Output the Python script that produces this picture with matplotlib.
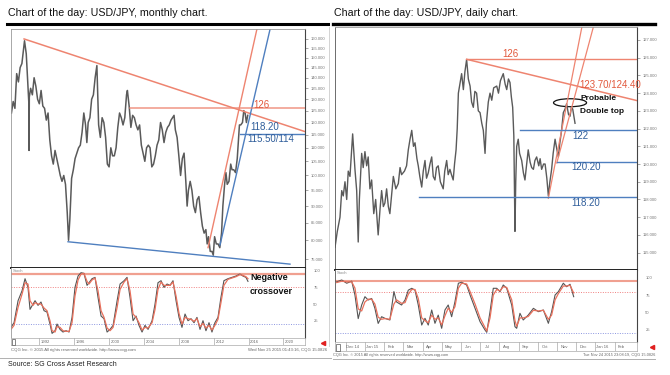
import numpy as np
import matplotlib.pyplot as plt
from matplotlib.patches import Ellipse, Rectangle
from matplotlib.lines import Line2D
from matplotlib.ticker import FixedLocator, NullFormatter, FormatStrFormatter

plt.rcParams['font.family'] = ['Liberation Sans', 'DejaVu Sans']

W, H = 670, 375

# ---------------------------------------------------------------------------
# Monthly chart data (decimal years, USD/JPY)
# ---------------------------------------------------------------------------
monthly_years = [
    1988.80, 1989.00, 1989.20, 1989.40, 1989.60, 1989.80, 1990.00, 1990.30,
    1990.50, 1990.70, 1990.80, 1990.82, 1990.85, 1991.00, 1991.20, 1991.40,
    1991.60, 1991.80, 1992.00, 1992.20, 1992.40, 1992.60, 1992.80, 1993.00,
    1993.20, 1993.40, 1993.60, 1993.80, 1994.00, 1994.20, 1994.40, 1994.60,
    1994.80, 1995.00, 1995.20, 1995.35, 1995.50, 1995.70, 1995.90, 1996.10,
    1996.30, 1996.50, 1996.70, 1996.90, 1997.10, 1997.30, 1997.45, 1997.60,
    1997.80, 1998.00, 1998.20, 1998.40, 1998.60, 1998.80, 1999.00, 1999.20,
    1999.40, 1999.60, 1999.80, 2000.00, 2000.20, 2000.40, 2000.60, 2000.80,
    2001.00, 2001.20, 2001.40, 2001.60, 2001.80, 2002.00, 2002.10, 2002.30,
    2002.50, 2002.70, 2002.90, 2003.10, 2003.30, 2003.50, 2003.70, 2003.90,
    2004.10, 2004.30, 2004.50, 2004.70, 2004.90, 2005.10, 2005.30, 2005.50,
    2005.70, 2005.90, 2006.10, 2006.30, 2006.50, 2006.70, 2006.90, 2007.10,
    2007.45, 2007.60, 2007.80, 2008.00, 2008.20, 2008.40, 2008.60, 2008.80,
    2008.95, 2009.10, 2009.30, 2009.50, 2009.70, 2009.90, 2010.10, 2010.30,
    2010.50, 2010.70, 2010.90, 2011.10, 2011.25, 2011.40, 2011.60, 2011.80,
    2011.95, 2012.10, 2012.30, 2012.50, 2012.70, 2012.90, 2013.05, 2013.25,
    2013.40, 2013.55, 2013.75, 2013.95, 2014.10, 2014.30, 2014.50, 2014.70,
    2014.85, 2014.95, 2015.10, 2015.30, 2015.45, 2015.60, 2015.75, 2015.90,
]
monthly_close = [
    124, 129, 126, 142, 138, 145, 147, 159,
    152, 136, 128, 109, 131, 135, 132, 140,
    136, 130, 128, 134, 127, 126, 121, 124,
    113, 107, 104, 109, 106, 103, 100, 98,
    100, 97, 88, 80, 86, 99, 102, 106,
    108, 110, 111, 116, 124, 119, 112, 120,
    122, 130, 132, 140, 146, 119, 114, 122,
    120, 114, 104, 103, 110, 107, 107, 110,
    118, 124, 122, 119, 122, 132, 134, 127,
    118, 123, 122, 119, 117, 119, 111, 108,
    105, 110, 111, 110, 103, 104, 107, 111,
    113, 120, 117, 112, 116, 118, 119, 121,
    123, 117, 114, 107, 100, 106, 108, 98,
    90, 95, 98, 95, 90, 88, 92, 93,
    88, 84, 82, 83, 79, 81, 77, 77,
    76, 81, 79, 79, 78, 82, 90, 97,
    101, 97, 98, 104, 102, 102, 101, 106,
    114, 119, 119, 120, 125, 124, 120, 123,
]

monthly_stoch_years = [
    1988.75, 1989.10, 1989.56, 1990.02, 1990.36, 1990.70, 1990.93, 1991.28,
    1991.51, 1991.85, 1992.19, 1992.54, 1992.88, 1993.22, 1993.46, 1993.80,
    1994.03, 1994.37, 1994.71, 1995.06, 1995.41, 1995.75, 1996.09, 1996.44,
    1996.78, 1997.12, 1997.47, 1997.70, 1998.04, 1998.39, 1998.73, 1999.08,
    1999.42, 1999.77, 2000.11, 2000.46, 2000.92, 2001.26, 2001.72, 2002.06,
    2002.40, 2002.75, 2003.09, 2003.43, 2003.78, 2004.12, 2004.47, 2004.93,
    2005.27, 2005.61, 2005.96, 2006.30, 2006.65, 2006.99, 2007.33, 2007.68,
    2008.02, 2008.36, 2008.71, 2009.05, 2009.40, 2009.74, 2010.08, 2010.43,
    2010.77, 2011.11, 2011.46, 2011.80, 2012.14, 2012.49, 2012.83, 2013.17,
    2013.63, 2014.09, 2014.55, 2015.01, 2015.35, 2015.70, 2015.93,
]
monthly_stoch_k = [
    15, 22, 55, 70, 88, 75, 42, 50,
    55, 48, 53, 40, 38, 20, 6, 10,
    20, 12, 8, 10, 8, 30, 75, 92,
    97, 96, 78, 82, 88, 90, 60, 32,
    28, 8, 12, 18, 55, 80, 85, 90,
    60, 25, 32, 18, 8, 18, 12, 25,
    50, 82, 85, 75, 80, 78, 85, 55,
    30, 15, 35, 25, 28, 22, 30, 12,
    25, 10, 22, 8, 22, 30, 60, 85,
    88, 90, 92, 95, 92, 90, 84,
]
monthly_stoch_d = [
    12, 18, 45, 65, 82, 80, 55, 48,
    52, 50, 50, 44, 40, 25, 10, 8,
    16, 15, 10, 9, 9, 22, 62, 86,
    95, 96, 84, 80, 86, 89, 70, 40,
    30, 14, 10, 15, 45, 72, 83, 88,
    70, 35, 30, 22, 11, 15, 14, 22,
    42, 72, 83, 78, 78, 78, 83, 62,
    36, 20, 30, 28, 27, 24, 28, 16,
    21, 14, 18, 11, 18, 27, 52, 78,
    87, 89, 91, 94, 93, 91, 88,
]

# ---------------------------------------------------------------------------
# Daily chart data (months since 1 Dec 2014, USD/JPY)
# ---------------------------------------------------------------------------
daily_months = [
    -0.57, -0.45, -0.31, -0.22, -0.14, -0.05, 0.04, 0.12, 0.21, 0.35,
    0.47, 0.56, 0.64, 0.70, 0.82, 0.90, 0.99, 1.08, 1.16, 1.25,
    1.34, 1.45, 1.55, 1.68, 1.78, 1.86, 1.95, 2.03, 2.12, 2.21,
    2.29, 2.40, 2.47, 2.60, 2.73, 2.82, 2.90, 3.05, 3.16, 3.25,
    3.34, 3.43, 3.52, 3.60, 3.70, 3.77, 3.85, 3.95, 4.03, 4.12,
    4.20, 4.29, 4.38, 4.47, 4.55, 4.64, 4.72, 4.81, 4.92, 5.07,
    5.15, 5.25, 5.33, 5.42, 5.50, 5.59, 5.66, 5.74, 5.80, 5.86,
    5.95, 6.03, 6.12, 6.20, 6.29, 6.38, 6.47, 6.55, 6.64, 6.72,
    6.81, 6.90, 6.99, 7.08, 7.16, 7.25, 7.32, 7.42, 7.51, 7.60,
    7.70, 7.86, 7.95, 8.05, 8.20, 8.30, 8.38, 8.47, 8.55, 8.62,
    8.69, 8.75, 8.81, 8.85, 8.90, 8.98, 9.05, 9.16, 9.25, 9.33,
    9.42, 9.50, 9.60, 9.68, 9.77, 9.85, 9.94, 10.05, 10.12, 10.20,
    10.30, 10.38, 10.47, 10.55, 10.63, 10.72, 10.80, 10.90, 10.98, 11.07,
    11.15, 11.24, 11.33, 11.42, 11.50, 11.60, 11.68, 11.75, 11.82, 11.94,
]
daily_close = [
    115.3, 116.2, 117.0, 118.5, 118.2, 119.0, 118.0, 119.6, 119.3, 121.7,
    119.7, 118.5, 115.6, 118.0, 120.6, 119.8, 120.7, 119.9, 120.4, 118.6,
    119.1, 117.2, 118.0, 116.0, 117.5, 118.5, 117.6, 117.8, 118.6, 117.6,
    117.2, 118.5, 119.3, 118.6, 118.9, 119.8, 119.4, 119.6, 119.9, 120.8,
    121.4, 121.9, 121.0, 121.2, 120.3, 119.9, 119.3, 118.7, 119.6, 120.2,
    119.2, 119.5, 120.0, 120.4, 119.3, 119.1, 119.8, 119.9, 119.0, 118.6,
    119.6, 120.2, 119.4, 119.7, 119.4, 119.1, 120.0, 120.8, 122.0, 124.0,
    124.6, 125.1, 124.2, 125.2, 125.9, 124.8, 124.4, 123.5, 123.2, 124.1,
    124.0, 123.0, 122.9, 122.3, 121.9, 120.6, 122.3, 123.5, 124.0, 123.6,
    124.3, 124.4, 124.0, 124.7, 125.1, 124.5, 124.2, 124.8, 124.6, 123.8,
    123.2, 121.6, 116.2, 119.0, 121.0, 121.4, 120.6, 120.2, 119.5, 119.1,
    120.0, 120.8, 120.1, 119.8, 119.7, 120.2, 120.4, 119.9, 120.3, 119.7,
    120.0, 120.0, 119.2, 118.2, 119.0, 119.7, 120.6, 121.4, 120.9, 120.4,
    121.2, 121.9, 122.9, 123.1, 123.4, 122.8, 122.7, 123.2, 123.1, 122.3,
]

daily_stoch_months = [
    -0.48, -0.22, 0.04, 0.30, 0.47, 0.64, 0.82, 0.99, 1.16, 1.34,
    1.51, 1.68, 1.86, 2.03, 2.29, 2.50, 2.64, 2.90, 3.08, 3.25,
    3.43, 3.60, 3.77, 3.95, 4.12, 4.29, 4.47, 4.64, 4.81, 4.99,
    5.16, 5.33, 5.51, 5.68, 5.86, 6.03, 6.29, 6.47, 6.73, 6.99,
    7.25, 7.34, 7.51, 7.68, 7.86, 8.03, 8.20, 8.38, 8.64, 8.81,
    8.90, 9.07, 9.24, 9.50, 9.77, 10.03, 10.29, 10.55, 10.72, 10.90,
    11.07, 11.33, 11.50, 11.68, 11.87,
]
daily_stoch_k = [
    94, 96.7, 92, 95, 75, 41, 60.6, 72.6, 67.8, 70,
    55.8, 34, 43.7, 41.4, 39, 80, 65, 60.6, 67.8, 82,
    84.7, 82, 60.6, 31.7, 41.4, 31.7, 53.4, 34.2, 46, 27,
    53.4, 60.6, 43.7, 65, 92, 93.4, 89.5, 75, 55.8, 36.5,
    24.5, 21.2, 51, 84.7, 84.7, 79.8, 89.5, 84.7, 60.6, 29.3,
    27, 48.6, 39, 46, 55.8, 51, 53.4, 34.2, 51, 75,
    79.8, 92, 87, 90.5, 72.6,
]
daily_stoch_d = [
    93, 95, 94, 94, 85, 55, 52, 65, 69, 69,
    62, 43, 40, 41, 40, 62, 68, 63, 64, 76,
    83, 83, 70, 42, 38, 35, 46, 40, 42, 32,
    45, 56, 50, 58, 85, 92, 91, 80, 62, 42,
    28, 23, 42, 75, 83, 81, 87, 86, 68, 38,
    30, 42, 42, 44, 53, 52, 53, 40, 46, 68,
    77, 88, 88, 89, 78,
]
daily_month_labels = ["Dec 14", "Jan 15", "Feb", "Mar", "Apr", "May", "Jun",
                      "Jul", "Aug", "Sep", "Oct", "Nov", "Dec", "Jan 16", "Feb"]

# annotation levels / trend lines (data coordinates)
m_red_trend_x, m_red_trend_y = [1990.25, 2022.47], [160, 116.3]
m_red_steep_x, m_red_steep_y = [2011.35, 2016.95], [78, 165.4]
m_blue_steep_x, m_blue_steep_y = [2012.72, 2018.46], [78.7, 165.4]
m_blue_floor_x, m_blue_floor_y = [1995.29, 2020.75], [79.6, 73.7]
m_level_126 = (2002.4, 126.0)
m_level_115 = (2015.0, 115.3)

d_red_trend_x, d_red_trend_y = [6.29, 15.17], [125.91, 123.58]
d_red_ch1_x, d_red_ch1_y = [10.55, 12.30], [118.07, 127.75]
d_red_ch2_x, d_red_ch2_y = [10.99, 12.90], [120.06, 127.75]
d_level_126 = (6.29, 125.91)
d_level_122 = (9.07, 121.92)
d_level_1202 = (10.99, 120.13)
d_level_1182 = (3.81, 118.16)

assert len(monthly_years) == len(monthly_close)
assert len(monthly_stoch_years) == len(monthly_stoch_k) == len(monthly_stoch_d)
assert len(daily_months) == len(daily_close)
assert len(daily_stoch_months) == len(daily_stoch_k) == len(daily_stoch_d)

RED = '#ee8470'
RED_TXT = '#e2583c'
BLUE = '#4f7fbf'
BLUE_TXT = '#2f5d9a'
PRICE = '#5a5a5a'


def rect(x0, y0, x1, y1):
    return [x0 / W, 1 - y1 / H, (x1 - x0) / W, (y1 - y0) / H]


def ftext(x, y, s, **kw):
    fig.text(x / W, 1 - y / H, s, **kw)


def fline(xs, ys, **kw):
    fig.add_artist(Line2D([x / W for x in xs], [1 - y / H for y in ys],
                          transform=fig.transFigure, **kw))


def style_frame(ax):
    for s in ax.spines.values():
        s.set_color('#9a9a9a')
        s.set_linewidth(0.6)
    ax.spines['right'].set_color('#444444')
    ax.spines['right'].set_linewidth(0.8)
    ax.set_xticks([])
    ax.yaxis.tick_right()
    ax.tick_params(axis='y', which='major', direction='out', length=2,
                   width=0.4, color='#666666', labelsize=3,
                   labelcolor='#777777', pad=2)
    ax.tick_params(axis='y', which='minor', direction='out', length=1,
                   width=0.3, color='#888888')


fig = plt.figure(figsize=(6.7, 3.75), dpi=100)
fig.patch.set_facecolor('white')

# titles and heavy rules
ftext(8, 13.5, "Chart of the day: USD/JPY, monthly chart.", fontsize=7.7,
      va='center', ha='left', color='#111111')
ftext(334, 13.5, "Chart of the day: USD/JPY, daily chart.", fontsize=7.7,
      va='center', ha='left', color='#111111')
fline([7, 328], [23.7, 23.7], color='black', lw=2.2)
fline([333, 655], [24, 24], color='black', lw=2.4)
fline([328.5, 328.5], [27, 346], color='#cccccc', lw=0.6)

# ---------------------------------------------------------------------------
# Left: monthly chart
# ---------------------------------------------------------------------------
axL = fig.add_axes(rect(11, 29.3, 305, 267.7))
axL.set_yscale('log')
axL.set_xlim(1988.75, 2022.47)
axL.set_ylim(72.8, 165.4)
style_frame(axL)
axL.spines['bottom'].set_color('#222222')
axL.spines['bottom'].set_linewidth(1.4)
axL.yaxis.set_major_locator(FixedLocator(np.arange(75, 161, 5)))
axL.yaxis.set_major_formatter(FormatStrFormatter('%.3f'))
axL.yaxis.set_minor_locator(FixedLocator(np.arange(77.5, 163, 5)))
axL.yaxis.set_minor_formatter(NullFormatter())

axL.plot(monthly_years, monthly_close, color=PRICE, lw=1.1)
axL.plot(m_red_trend_x, m_red_trend_y, color=RED, lw=1.1)
axL.plot(m_red_steep_x, m_red_steep_y, color=RED, lw=1.0)
axL.plot(m_blue_steep_x, m_blue_steep_y, color=BLUE, lw=1.0)
axL.plot(m_blue_floor_x, m_blue_floor_y, color=BLUE, lw=1.0)
axL.plot([m_level_126[0], 2022.47], [m_level_126[1]] * 2, color=RED, lw=1.1,
         alpha=0.85)
axL.plot([m_level_115[0], 2022.47], [m_level_115[1]] * 2, color=BLUE, lw=1.0)
axL.text(2017.5, 127.6, "126", color=RED_TXT, fontsize=7, ha='center',
         va='center')
axL.text(2016.2, 118.2, "118.20", color=BLUE_TXT, fontsize=7, ha='left',
         va='center')
axL.text(2015.85, 113.4, "115.50/114", color=BLUE_TXT, fontsize=7, ha='left',
         va='center')

axLs = fig.add_axes(rect(11, 267.7, 305, 337.7))
axLs.set_xlim(1988.75, 2022.47)
axLs.set_ylim(-0.5, 104.5)
style_frame(axLs)
axLs.spines['top'].set_visible(False)
axLs.spines['bottom'].set_color('#444444')
axLs.set_yticks([25, 50, 75, 100])
axLs.tick_params(axis='y', length=0, pad=6)
axLs.axhline(95, color='#f0a090', lw=1.6)
axLs.axhline(75, color='#f08080', lw=0.7, ls=(0, (1, 1.5)))
axLs.axhline(20, color='#8c96e0', lw=0.7, ls=(0, (1, 1.5)))
axLs.plot(monthly_stoch_years, monthly_stoch_k, color='#555555', lw=0.8)
axLs.plot(monthly_stoch_years, monthly_stoch_d, color='#e8705c', lw=0.9)
ftext(250, 278, "Negative", fontsize=6.5, weight='bold', ha='left',
      va='center', color='#111111')
ftext(250, 291, "crossover", fontsize=6.5, weight='bold', ha='left',
      va='center', color='#111111')
ftext(13, 271, "Stoch", fontsize=3, color='#888888', ha='left', va='center')

axLx = fig.add_axes(rect(11, 337.7, 305, 345))
axLx.set_xlim(1988.75, 2022.47)
axLx.set_ylim(0, 1)
axLx.set_xticks([])
axLx.set_yticks([])
for s in axLx.spines.values():
    s.set_color('#aaaaaa')
    s.set_linewidth(0.5)
for yr in range(1992, 2021, 4):
    axLx.axvline(yr, color='#aaaaaa', lw=0.5)
    axLx.text(yr + 0.7, 0.45, str(yr), fontsize=3, color='#666666',
              ha='center', va='center')
fig.add_artist(Rectangle((11.5 / W, 1 - 345 / H), 3.5 / W, 6.5 / H,
                         transform=fig.transFigure, facecolor='white',
                         edgecolor='#555555', lw=0.5))
fig.add_artist(Line2D([322.5 / W], [1 - 343 / H], marker='<', color='#e02020',
                      markersize=3, transform=fig.transFigure))

ftext(11, 350, "CQG Inc. \u00a9 2015 All rights reserved worldwide. http://www.cqg.com",
      fontsize=3.1, color='#666666', ha='left', va='center')
ftext(327, 350, "Wed Nov 25 2015 01:43:16, CQG 15.0826", fontsize=3.1,
      color='#666666', ha='right', va='center')
fline([0, 331], [357.7, 357.7], color='#b0b0b0', lw=0.7)
ftext(8, 364.5, "Source: SG Cross Asset Research", fontsize=5,
      color='#222222', ha='left', va='center')

# ---------------------------------------------------------------------------
# Right: daily chart
# ---------------------------------------------------------------------------
axR = fig.add_axes(rect(335, 26.7, 637, 270))
axR.set_xlim(-0.57, 15.17)
axR.set_ylim(114.02, 127.75)
style_frame(axR)
axR.spines['left'].set_color('#555555')
axR.spines['bottom'].set_color('#222222')
axR.spines['bottom'].set_linewidth(1.4)
axR.yaxis.set_major_locator(FixedLocator(np.arange(115, 128, 1)))
axR.yaxis.set_major_formatter(FormatStrFormatter('%.3f'))
axR.yaxis.set_minor_locator(FixedLocator(np.arange(114.5, 128, 1)))
axR.yaxis.set_minor_formatter(NullFormatter())

axR.plot(daily_months, daily_close, color=PRICE, lw=1.0)
axR.plot([d_level_126[0], 15.17], [d_level_126[1]] * 2, color=RED, lw=1.0)
axR.plot(d_red_trend_x, d_red_trend_y, color=RED, lw=1.1)
axR.plot(d_red_ch1_x, d_red_ch1_y, color=RED, lw=0.9)
axR.plot(d_red_ch2_x, d_red_ch2_y, color=RED, lw=0.9)
for lvl in (d_level_122, d_level_1202, d_level_1182):
    axR.plot([lvl[0], 15.17], [lvl[1]] * 2, color=BLUE, lw=1.0)
axR.add_patch(Ellipse((11.68, 123.46), 1.72, 0.45, fill=False,
                      edgecolor='#111111', lw=0.9))
axR.text(8.55, 126.21, "126", color=RED_TXT, fontsize=7, ha='center',
         va='center')
axR.text(12.15, 124.46, "123.70/124.40", color=RED_TXT, fontsize=7,
         ha='left', va='center')
axR.text(11.78, 121.58, "122", color=BLUE_TXT, fontsize=7, ha='left',
         va='center')
axR.text(11.77, 119.85, "120.20", color=BLUE_TXT, fontsize=7, ha='left',
         va='center')
axR.text(11.77, 117.82, "118.20", color=BLUE_TXT, fontsize=7, ha='left',
         va='center')
axR.text(12.2, 123.69, "Probable", fontsize=6, weight='bold', ha='left',
         va='center', color='#111111')
axR.text(12.2, 122.96, "Double top", fontsize=6, weight='bold', ha='left',
         va='center', color='#111111')

axRs = fig.add_axes(rect(335, 270, 637, 342.3))
axRs.set_xlim(-0.57, 15.17)
axRs.set_ylim(6.8, 111.1)
style_frame(axRs)
axRs.spines['left'].set_color('#555555')
axRs.spines['top'].set_visible(False)
axRs.spines['bottom'].set_color('#444444')
axRs.set_yticks([25, 50, 75, 100])
axRs.tick_params(axis='y', length=0, pad=6)
axRs.axhline(95.5, color='#f0a090', lw=1.5)
axRs.axhline(80, color='#f08080', lw=0.7, ls=(0, (1, 1.5)))
axRs.axhline(20, color='#8c96e0', lw=0.7, ls=(0, (1, 1.5)))
axRs.plot(daily_stoch_months, daily_stoch_k, color='#555555', lw=0.8)
axRs.plot(daily_stoch_months, daily_stoch_d, color='#e8705c', lw=0.9)
ftext(337, 273, "Stoch", fontsize=3, color='#888888', ha='left', va='center')

axRx = fig.add_axes(rect(335, 342.3, 637, 351))
axRx.set_xlim(-0.57, 15.17)
axRx.set_ylim(0, 1)
axRx.set_xticks([])
axRx.set_yticks([])
for s in axRx.spines.values():
    s.set_color('#aaaaaa')
    s.set_linewidth(0.5)
for i, lab in enumerate(daily_month_labels):
    axRx.axvline(i, color='#aaaaaa', lw=0.5)
    axRx.text(i + 0.36, 0.45, lab, fontsize=3, color='#666666',
              ha='center', va='center')
fig.add_artist(Rectangle((336 / W, 1 - 351 / H), 3.5 / W, 7.5 / H,
                         transform=fig.transFigure, facecolor='white',
                         edgecolor='#555555', lw=0.5))
fig.add_artist(Line2D([651.5 / W], [1 - 347.3 / H], marker='<',
                      color='#e02020', markersize=3,
                      transform=fig.transFigure))

ftext(333, 355, "CQG Inc. \u00a9 2015 All rights reserved worldwide. http://www.cqg.com",
      fontsize=2.8, color='#666666', ha='left', va='center')
ftext(655, 355, "Tue Nov 24 2015 23:08:19, CQG 15.0826", fontsize=2.8,
      color='#666666', ha='right', va='center')
fline([333, 655], [359, 359], color='#b0b0b0', lw=0.7)

fig.savefig('out.png', dpi=100)
